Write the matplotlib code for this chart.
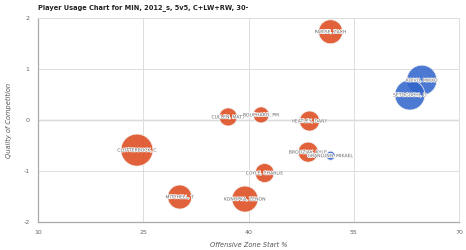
import matplotlib
matplotlib.use("Agg")
import matplotlib.pyplot as plt
import matplotlib.patheffects as pe

# NOTE: the reference image is too blurry to read the bubble labels; the player
# names below are plausible placeholders, not read from the picture. The title
# text and the x tick values (10, 25, 40, 55, 70) are best guesses from blurred text.
title = "Player Usage Chart for MIN, 2012_s, 5v5, C+LW+RW, 30-"
players = ["PARISE, ZACH", "KOIVU, MIKKO", "SETOGUCHI, D", "CULLEN, MATT",
           "BOUCHARD, PM", "HEATLEY, DANY", "CLUTTERBUCK, C", "BRODZIAK, KYLE",
           "GRANLUND, MIKAEL", "COYLE, CHARLIE", "MITCHELL, T", "KONOPKA, ZENON"]
oz_start = [51.7, 64.7, 63.0, 37.1, 41.8, 48.7, 24.1, 48.5, 51.7, 42.3, 30.2, 39.5]
qual_comp = [1.73, 0.78, 0.49, 0.06, 0.10, -0.02, -0.59, -0.63, -0.70, -1.04, -1.51, -1.55]
corsi_positive = [False, True, True, False, False, False, False, False, True, False, False, False]
bubble_size = [12, 15, 15, 9, 8, 10, 16, 10, 4.5, 9.5, 12, 13]
x_ticks = [10, 25, 40, 55, 70]
y_ticks = [-2, -1, 0, 1, 2]

W, H = 466, 250
fig = plt.figure(figsize=(W/100, H/100), dpi=100)
ax = fig.add_axes([38/W, 1-222/H, (459-38)/W, (222-18)/H])
ax.set_xlim(10, 70)
ax.set_ylim(-2, 2)

orange = "#dd4b1f"
blue = "#3366cc"
colors = [blue if c else orange for c in corsi_positive]
sizes = [(2*r*0.72)**2 for r in bubble_size]
ax.scatter(oz_start, qual_comp, s=sizes, c=colors, alpha=0.88,
           edgecolors="#f2f2f2", linewidths=0.6, zorder=3)

for name, x, y in zip(players, oz_start, qual_comp):
    ax.text(x, y, name, fontsize=3.3, color="#666666", ha="center", va="center",
            zorder=4, path_effects=[pe.withStroke(linewidth=1.0, foreground="white")])

ax.set_xticks(x_ticks)
ax.set_yticks(y_ticks)
ax.set_xticklabels([str(t) for t in x_ticks])
ax.set_yticklabels([str(t) for t in y_ticks])
ax.tick_params(length=0, labelsize=4.5, labelcolor="#666666", pad=6)
ax.grid(True, color="#dddddd", linewidth=0.7, zorder=0)
ax.axhline(0, color="#aaaaaa", linewidth=0.9, zorder=1)
for side in ["top", "right"]:
    ax.spines[side].set_color("#dddddd")
    ax.spines[side].set_linewidth(0.7)
for side in ["left", "bottom"]:
    ax.spines[side].set_color("#aaaaaa")
    ax.spines[side].set_linewidth(0.9)

ax.set_xlabel("Offensive Zone Start %", fontsize=4.8, style="italic", color="#555555", labelpad=5)
ax.set_ylabel("Quality of Competition", fontsize=4.8, style="italic", color="#555555", labelpad=8)
fig.text(38/W, 1-8/H, title, fontsize=4.8, fontweight="bold", color="#222222", ha="left", va="center")

fig.savefig("out.png", dpi=100, facecolor="white")
